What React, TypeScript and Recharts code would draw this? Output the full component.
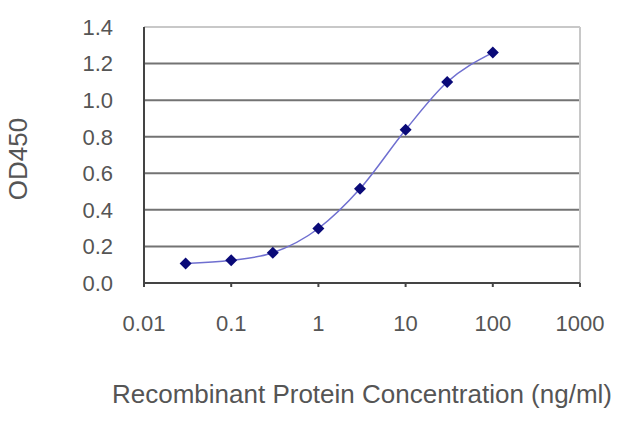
import React from "react";
import {
  LineChart,
  Line,
  XAxis,
  YAxis,
  CartesianGrid,
  ReferenceLine,
} from "recharts";

const concentrations = [0.03, 0.1, 0.3, 1, 3, 10, 30, 100];
const od450 = [0.106, 0.124, 0.165, 0.298, 0.515, 0.838, 1.099, 1.26];
const xTicks = [0.01, 0.1, 1, 10, 100, 1000];
const yTicks = [0, 0.2, 0.4, 0.6, 0.8, 1.0, 1.2, 1.4];
const gridValues = [0.2, 0.4, 0.6, 0.8, 1.0, 1.2];

const data = concentrations.map((c, i) => ({ conc: c, od: od450[i] }));

const FONT = '"Liberation Sans", Arial, sans-serif';
const TEXT = "#555";

function Diamond(props: any) {
  const { cx, cy } = props;
  if (cx == null || cy == null) return null;
  const r = 6;
  return (
    <path
      d={`M${cx},${cy - r} L${cx + r},${cy} L${cx},${cy + r} L${cx - r},${cy} Z`}
      fill="#0a0a78"
    />
  );
}

// rotated y title, centred on the plot height
function YTitle(props: any) {
  const vb = props.viewBox || {};
  const x = 18;
  const y = (vb.y ?? 0) + (vb.height ?? 0) / 2 + 4;
  return (
    <text
      x={x}
      y={y}
      transform={`rotate(-90, ${x}, ${y})`}
      textAnchor="middle"
      dominantBaseline="central"
      fill={TEXT}
      fontSize={26}
      fontFamily={FONT}
    >
      OD450
    </text>
  );
}

export default function App() {
  return (
    <div style={{ position: "absolute", left: 0, top: 0, background: "#fff" }}>
      <LineChart
        width={640}
        height={427}
        data={data}
        margin={{ top: 27, right: 60, bottom: 0, left: 0 }}
      >
        <CartesianGrid
          horizontal
          vertical={false}
          horizontalValues={gridValues}
          stroke="#737373"
          strokeWidth={2}
        />
        <ReferenceLine y={1.4} stroke="#c8c8c8" strokeWidth={2} />
        <ReferenceLine x={1000} stroke="#c8c8c8" strokeWidth={2} />
        <XAxis
          dataKey="conc"
          type="number"
          scale="log"
          domain={[0.01, 1000]}
          ticks={xTicks}
          tickFormatter={(v: number) => String(v)}
          allowDataOverflow
          height={144}
          stroke="#444"
          strokeWidth={2}
          tickSize={4}
          tickMargin={28}
          tick={{ fill: TEXT, fontSize: 22, fontFamily: FONT }}
          label={{
            value: "Recombinant Protein Concentration (ng/ml)",
            position: "insideBottom",
            offset: 24,
            fill: TEXT,
            fontSize: 26,
            fontFamily: FONT,
          }}
        />
        <YAxis
          type="number"
          domain={[0, 1.4]}
          ticks={yTicks}
          tickFormatter={(v: number) => v.toFixed(1)}
          width={144}
          stroke="#444"
          strokeWidth={2}
          tickLine={false}
          tickMargin={25}
          tick={{ fill: TEXT, fontSize: 22, fontFamily: FONT }}
          label={<YTitle />}
        />
        <Line
          dataKey="od"
          type="monotone"
          stroke="#6f6fd0"
          strokeWidth={1.5}
          dot={<Diamond />}
          activeDot={false}
          isAnimationActive={false}
        />
      </LineChart>
    </div>
  );
}
